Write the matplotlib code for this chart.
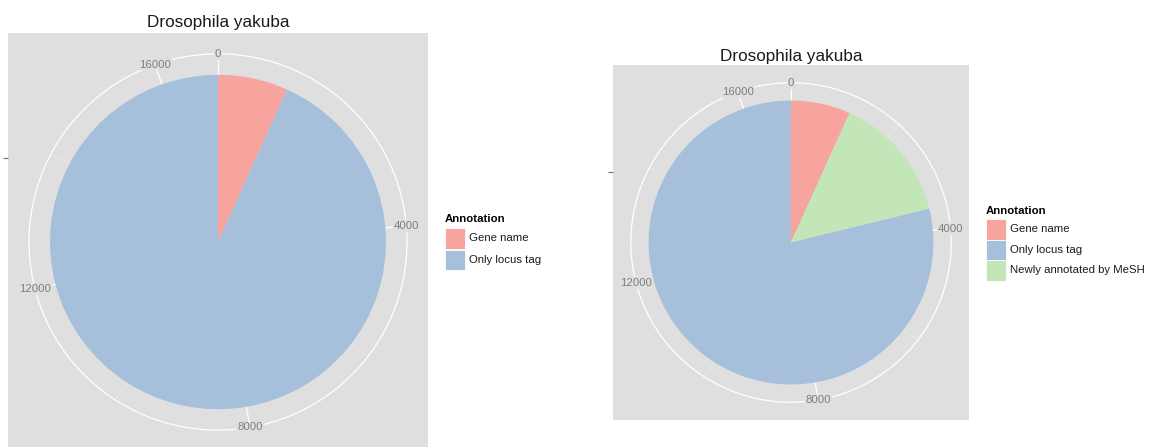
import numpy as np
import matplotlib
matplotlib.use("Agg")
import matplotlib.pyplot as plt
from matplotlib.patches import Rectangle, Circle

plt.rcParams['font.family'] = ['Liberation Sans', 'DejaVu Sans']

# ---- data ----
title = "Drosophila yakuba"
legend_title = "Annotation"
left_categories = ["Gene name", "Only locus tag"]
left_values = [1140, 15775]
right_categories = ["Gene name", "Only locus tag", "Newly annotated by MeSH"]
# stacking order around the circle (clockwise from top)
right_stack_order = ["Gene name", "Newly annotated by MeSH", "Only locus tag"]
right_values = {"Gene name": 1140, "Newly annotated by MeSH": 2440, "Only locus tag": 13335}
major_breaks = [0, 4000, 8000, 12000, 16000]
minor_breaks = [2000, 6000, 10000, 14000]

colors = {"Gene name": "#F7A39E", "Only locus tag": "#A6C0DB",
          "Newly annotated by MeSH": "#C3E6B8"}
PANEL = "#DFDFDF"
W, H = 1153, 447

fig = plt.figure(figsize=(W / 100, H / 100), dpi=100)


def fx(x):
    return x / W


def fy(y):
    return 1 - y / H


def polar_panel(x0, y0, w, h, cats, vals):
    ax = fig.add_axes([fx(x0), fy(y0 + h), w / W, h / H])
    ax.set_facecolor(PANEL)
    total = float(sum(vals))
    ax.pie(vals, colors=[colors[c] for c in cats], radius=0.4, center=(0.5, 0.5),
           startangle=90, counterclock=False, frame=True,
           wedgeprops=dict(linewidth=0, zorder=2))
    ax.set_xlim(0, 1)
    ax.set_ylim(0, 1)
    ax.set_aspect('auto')
    for s in ax.spines.values():
        s.set_visible(False)
    ax.set_xticks([])
    ax.set_yticks([0.7])
    ax.set_yticklabels([''])
    ax.tick_params(axis='y', length=3.6, width=0.8, color='#6F6F6F')

    def ang(v):
        return np.deg2rad(90 - v / total * 360)

    for v in minor_breaks:
        if v <= total:
            a = ang(v)
            ax.plot([0.5, 0.5 + 0.45 * np.cos(a)], [0.5, 0.5 + 0.45 * np.sin(a)],
                    color='#F0F0F0', lw=0.35, zorder=1, solid_capstyle='butt')
    for v in major_breaks:
        a = ang(v)
        ax.plot([0.5, 0.5 + 0.45 * np.cos(a)], [0.5, 0.5 + 0.45 * np.sin(a)],
                color='white', lw=0.9, zorder=1, solid_capstyle='butt')
    ax.add_patch(Circle((0.5, 0.5), 0.45, fill=False, edgecolor='white', lw=0.9, zorder=1))
    for v in major_breaks:
        a = ang(v)
        ax.text(0.5 + 0.45 * np.cos(a), 0.5 + 0.45 * np.sin(a), f"{v}",
                ha='center', va='center', fontsize=8.2, color='#7F7F7F', zorder=5,
                bbox=dict(facecolor=PANEL, edgecolor='none', pad=0.6))
    return ax


def legend(x, ytitle, ykeys, cats):
    fig.text(fx(x), fy(ytitle), legend_title, fontsize=8.2, fontweight='bold',
             ha='left', va='center', color='black')
    for c, (yt, yb) in zip(cats, ykeys):
        fig.patches.append(Rectangle((fx(x), fy(yb)), 20 / W, (yb - yt) / H,
                                     transform=fig.transFigure, facecolor=colors[c],
                                     edgecolor='white', lw=0.6))
        fig.text(fx(x + 24), fy((yt + yb) / 2), c, fontsize=8.2, ha='left',
                 va='center', color='#1A1A1A')


# left panel
polar_panel(8, 33, 420, 418, left_categories, left_values)
fig.text(fx(218), fy(27.2), title, fontsize=12.3, ha='center', va='baseline', color='#1A1A1A')
legend(445, 219.5, [(228, 249), (249.5, 270)], left_categories)

# right panel
polar_panel(613, 65, 356, 355, right_stack_order,
            [right_values[c] for c in right_stack_order])
fig.text(fx(791), fy(60.5), title, fontsize=12.3, ha='center', va='baseline', color='#1A1A1A')
legend(986, 210.5, [(219, 239.5), (239.5, 260), (260, 280.5)], right_categories)

fig.savefig("out.png", dpi=100, facecolor='white')
